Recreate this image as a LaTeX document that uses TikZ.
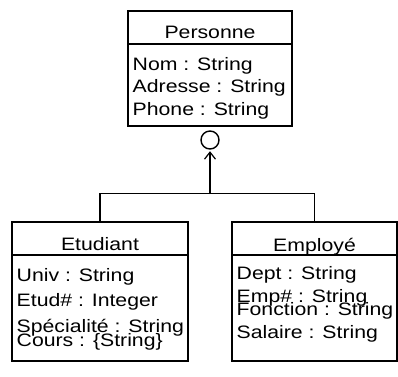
\documentclass[tikz,border=0pt]{standalone}
\usepackage{fontspec}
\setmainfont{Liberation Sans}[FakeStretch=1.18]
\usetikzlibrary{arrows.meta}
\tikzset{
  classbox/.style={draw, line width=1.6pt, inner sep=0pt, rectangle},
  classname/.style={anchor=base, inner sep=0pt, font=\fontsize{18}{18}\selectfont},
  attr/.style={anchor=base west, inner sep=0pt, font=\fontsize{18}{18}\selectfont},
  link/.style={line width=1.3pt},
  gencircle/.style={draw, circle, line width=1.4pt, minimum size=18pt, inner sep=0pt},
}
\begin{document}
\begin{tikzpicture}[x=1pt,y=-1pt]
  \useasboundingbox (0,0) rectangle (398,376);

  % Personne
  \node[classbox, minimum width=164pt, minimum height=115pt] (pers) at (210,68.5) {};
  \draw[line width=1.6pt] (pers.west |- 0,44) -- (pers.east |- 0,44);
  \node[classname] (persname) at (210,38) {Personne};
  \node[attr] (pers1) at (132.5,70) {Nom : String};
  \node[attr] (pers2) at (132.5,92) {Adresse : String};
  \node[attr] (pers3) at (132.5,115) {Phone : String};

  % Etudiant
  \node[classbox, minimum width=176pt, minimum height=139pt] (etu) at (100,291.5) {};
  \draw[line width=1.6pt] (etu.west |- 0,255) -- (etu.east |- 0,255);
  \node[classname] (etuname) at (100,250.5) {Etudiant};
  \node[attr] (etu1) at (16.5,281) {Univ : String};
  \node[attr] (etu2) at (16.5,306.5) {Etud\# : Integer};
  \node[attr] (etu3) at (16.5,332) {Spécialité : String};
  \node[attr] (etu4) at (16.5,346.5) {Cours : \{String\}};

  % Employé
  \node[classbox, minimum width=165pt, minimum height=139pt] (emp) at (314.5,291.5) {};
  \draw[line width=1.6pt] (emp.west |- 0,255) -- (emp.east |- 0,255);
  \node[classname] (empname) at (314.5,251) {Employé};
  \node[attr] (emp1) at (236.5,279.5) {Dept : String};
  \node[attr] (emp2) at (236.5,302.3) {Emp\# : String};
  \node[attr] (emp3) at (236.5,315) {Fonction : String};
  \node[attr] (emp4) at (236.5,338.3) {Salaire : String};

  % Generalisation
  \node[gencircle] (gen) at (210,140) {};
  \coordinate (join) at (210,194);
  \draw[link] (etu.north) -- ++(0,-28) -| (emp.north);
  \draw[link, -{Straight Barb[length=7pt,width=11pt,line width=1.2pt]}, shorten >=1.5pt] (join) -- (gen.south);
\end{tikzpicture}
\end{document}
